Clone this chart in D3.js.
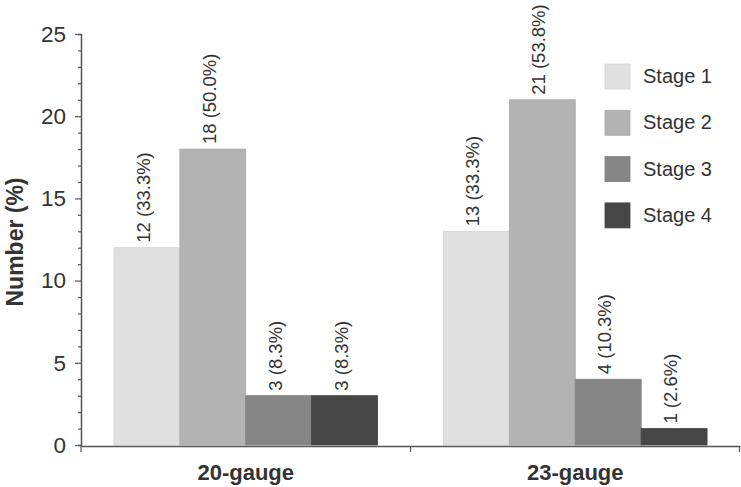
<!DOCTYPE html>
<html>
<head>
<meta charset="utf-8">
<script src="https://cdn.jsdelivr.net/npm/d3@7"></script>
<style>
  body { margin: 0; background: #fff; }
  text { font-family: "Liberation Sans", Arial, sans-serif; fill: #333; }
</style>
</head>
<body>
<svg id="chart" width="741" height="487"></svg>
<script>
const groups = ['20-gauge', '23-gauge'];
const stages = ['Stage 1', 'Stage 2', 'Stage 3', 'Stage 4'];
const counts20 = [12, 18, 3, 3];
const counts23 = [13, 21, 4, 1];
const pct20 = ['33.3', '50.0', '8.3', '8.3'];
const pct23 = ['33.3', '53.8', '10.3', '2.6'];
const colors = ['#e0e0e0', '#b3b3b3', '#868686', '#464646'];
const yTicks = [0, 5, 10, 15, 20, 25];

const svg = d3.select('#chart');
const mLeft = 81, mRight = 740, mTop = 34, mBottom = 445;

const x = d3.scaleBand().domain(groups).range([mLeft, mRight]);
const xi = d3.scaleBand().domain(stages).range([0, x.bandwidth()]).paddingOuter(0.5).paddingInner(0);
const y = d3.scaleLinear().domain([0, 25]).range([mBottom, mTop]);
const color = d3.scaleOrdinal().domain(stages).range(colors);

const rows = [];
groups.forEach((g, gi) => {
  const c = gi === 0 ? counts20 : counts23;
  const p = gi === 0 ? pct20 : pct23;
  stages.forEach((s, si) => rows.push({group: g, stage: s, value: c[si], pct: p[si]}));
});

// bars
svg.append('g').selectAll('rect').data(rows).join('rect')
  .attr('x', d => x(d.group) + xi(d.stage))
  .attr('y', d => y(d.value))
  .attr('width', xi.bandwidth())
  .attr('height', d => y(0) - y(d.value))
  .attr('fill', d => color(d.stage))
  .attr('stroke', d => d3.color(color(d.stage)).darker(0.15))
  .attr('stroke-width', 0.8);

// value labels, rotated
svg.append('g').selectAll('text').data(rows).join('text')
  .attr('transform', d => `translate(${x(d.group) + xi(d.stage) + xi.bandwidth() / 2 + 3},${y(d.value) - 5}) rotate(-90)`)
  .attr('text-anchor', 'start')
  .style('font-size', '18.5px')
  .text(d => `${d.value} (${d.pct}%)`);

// y axis with minor ticks
const yAxis = svg.append('g').attr('transform', `translate(${mLeft},0)`);
yAxis.call(d3.axisLeft(y).tickValues(d3.range(0, 26)).tickSize(3).tickFormat(''));
yAxis.call(g => g.selectAll('.tick').filter(d => yTicks.includes(d)).select('line').attr('x2', -6));
yAxis.call(g => g.selectAll('.tick').filter(d => yTicks.includes(d)).select('text')
  .text(d => d).attr('x', -15).style('font-size', '22.5px').attr('fill', '#333'));
yAxis.select('.domain').attr('stroke', '#555').attr('stroke-width', 1.5);
yAxis.selectAll('.tick line').attr('stroke', '#555').attr('stroke-width', 1.2);

// x axis
const xAxis = svg.append('g').attr('transform', `translate(0,${mBottom + 1})`);
xAxis.call(d3.axisBottom(x).tickSize(0).tickFormat(''));
xAxis.select('.domain').attr('stroke', '#555').attr('stroke-width', 1.5);
xAxis.selectAll('.sep').data([mLeft, x('23-gauge'), mRight - 0.5]).join('line')
  .attr('x1', d => d).attr('x2', d => d).attr('y1', 0).attr('y2', 6)
  .attr('stroke', '#555').attr('stroke-width', 1.2);
svg.append('g').selectAll('text').data(groups).join('text')
  .attr('x', d => x(d) + x.bandwidth() / 2)
  .attr('y', 480)
  .attr('text-anchor', 'middle')
  .style('font-size', '22px')
  .style('font-weight', 'bold')
  .text(d => d);

// y label
svg.append('text')
  .attr('transform', 'translate(23,242) rotate(-90)')
  .attr('text-anchor', 'middle')
  .style('font-size', '23px')
  .style('font-weight', 'bold')
  .text('Number (%)');

// legend
const legend = svg.append('g').attr('transform', 'translate(605,64)');
const item = legend.selectAll('g').data(stages).join('g')
  .attr('transform', (d, i) => `translate(0,${i * 46.3})`);
item.append('rect').attr('width', 25).attr('height', 25).attr('fill', d => color(d))
  .attr('stroke', d => d3.color(color(d)).darker(0.15)).attr('stroke-width', 0.8);
item.append('text').attr('x', 38).attr('y', 19).style('font-size', '20px').text(d => d);
</script>
</body>
</html>
